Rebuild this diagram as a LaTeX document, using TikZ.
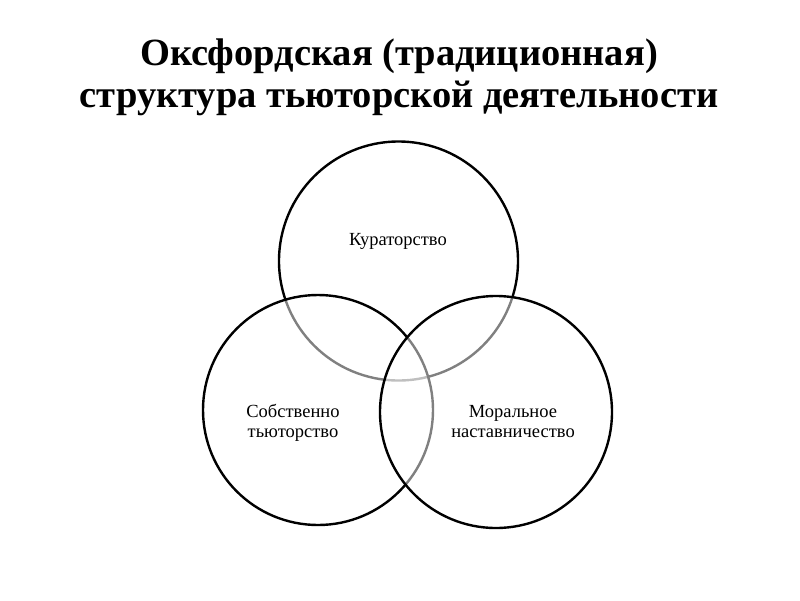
\documentclass[tikz,border=0pt]{standalone}
\usepackage{fontspec}
\setmainfont{Liberation Serif}
\begin{document}
\begin{tikzpicture}[x=1pt,y=-1pt,
  ring/.style={draw=black,line width=2.4pt,fill=white,fill opacity=0.5,draw opacity=1},
  lbl/.style={align=center,font=\fontsize{18.5}{20}\selectfont,text=black},
  ttl/.style={align=center,font=\fontsize{38.5}{42}\selectfont\bfseries}]
\useasboundingbox (0,0) rectangle (800,600);
\fill[white] (0,0) rectangle (800,600);
\node[ttl,anchor=base] (title) at (399,107) {Оксфордская (традиционная)\\структура тьюторской деятельности};
\path[ring] (398.5,261) circle[radius=119.5];
\path[ring] (318,410) circle[radius=115];
\path[ring] (496,412) circle[radius=116];
\node[lbl,anchor=base] (k) at (398,245) {Кураторство};
\node[lbl,anchor=base] (s) at (293,437) {Собственно\\тьюторство};
\node[lbl,anchor=base] (m) at (513,437) {Моральное\\наставничество};
\end{tikzpicture}
\end{document}
